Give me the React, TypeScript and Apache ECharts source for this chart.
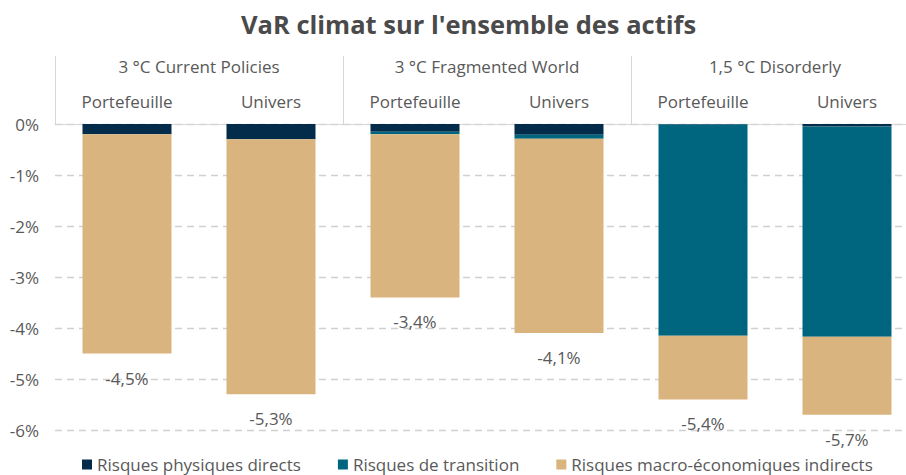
import React, { useEffect, useRef } from "react";
import * as echarts from "echarts";

const categories = ["Portefeuille", "Univers", "Portefeuille", "Univers", "Portefeuille", "Univers"];
const scenarios = ["3 °C Current Policies", "3 °C Fragmented World", "1,5 °C Disorderly"];
const physical = [-0.2, -0.3, -0.15, -0.21, -0.01, -0.05];
const transition = [0, 0, -0.05, -0.08, -4.14, -4.12];
const macro = [-4.3, -5.0, -3.2, -3.81, -1.25, -1.53];
const seriesNames = ["Risques physiques directs", "Risques de transition", "Risques macro-économiques indirects"];
const colors = ["#032c4a", "#00667f", "#d9b47f"];

const FONT = "'Open Sans', 'Noto Sans', sans-serif";
const GRAY = "#595959";

export default function App() {
  const ref = useRef<HTMLDivElement>(null);
  useEffect(() => {
    if (!ref.current) return;
    const chart = echarts.init(ref.current, undefined, { renderer: "svg" });
    const totals = categories.map((_, i) => physical[i] + transition[i] + macro[i]);
    chart.setOption({
      animation: false,
      textStyle: { fontFamily: FONT },
      title: {
        text: "VaR climat sur l'ensemble des actifs",
        left: 236,
        top: 6,
        textStyle: { fontSize: 25.5, fontWeight: "bold", color: "#4a4a4a", fontFamily: FONT },
      },
      legend: {
        left: 77,
        top: 451,
        itemWidth: 10,
        itemHeight: 10,
        itemGap: 37,
        icon: "rect",
        textStyle: { fontSize: 17, color: GRAY, fontFamily: FONT },
        data: seriesNames,
      },
      grid: { left: 55, top: 124, width: 864, height: 306, containLabel: false },
      xAxis: [
        {
          type: "category",
          position: "top",
          data: categories,
          axisLine: { show: true, onZero: false, lineStyle: { color: "#d6d6d6", width: 1 } },
          axisTick: { show: false },
          axisLabel: { margin: 14, fontSize: 17, color: GRAY, fontFamily: FONT, interval: 0 },
        },
        {
          type: "category",
          position: "top",
          data: scenarios,
          axisLine: { show: false, onZero: false },
          axisTick: { show: true, length: 68, alignWithLabel: false, interval: 0, lineStyle: { color: "#d6d6d6", width: 1 } },
          axisLabel: { margin: 49, fontSize: 17, color: GRAY, fontFamily: FONT, interval: 0 },
        },
      ],
      yAxis: {
        type: "value",
        min: -6,
        max: 0,
        interval: 1,
        axisLine: { show: false },
        axisTick: { show: false },
        axisLabel: { margin: 16, fontSize: 17, color: GRAY, fontFamily: FONT, formatter: (v: number) => `${v}%` },
        splitLine: { show: true, lineStyle: { color: "#d0d0d0", type: [7, 5], width: 1.3 } },
      },
      series: [
        { name: seriesNames[0], type: "bar", stack: "total", data: physical, barWidth: 89, itemStyle: { color: colors[0] } },
        { name: seriesNames[1], type: "bar", stack: "total", data: transition, barWidth: 89, itemStyle: { color: colors[1] } },
        {
          name: seriesNames[2],
          type: "bar",
          stack: "total",
          data: macro,
          barWidth: 89,
          itemStyle: { color: colors[2] },
          label: {
            show: true,
            position: "outside",
            distance: 16,
            fontSize: 17,
            color: GRAY,
            fontFamily: FONT,
            formatter: (p: any) => `${totals[p.dataIndex].toFixed(1).replace(".", ",")}%`,
          },
        },
      ],
    });
    return () => chart.dispose();
  }, []);
  return (
    <div style={{ position: "absolute", left: 0, top: 0, width: 906, height: 475, overflow: "hidden" }}>
      <div ref={ref} style={{ width: 920, height: 475 }} />
    </div>
  );
}
